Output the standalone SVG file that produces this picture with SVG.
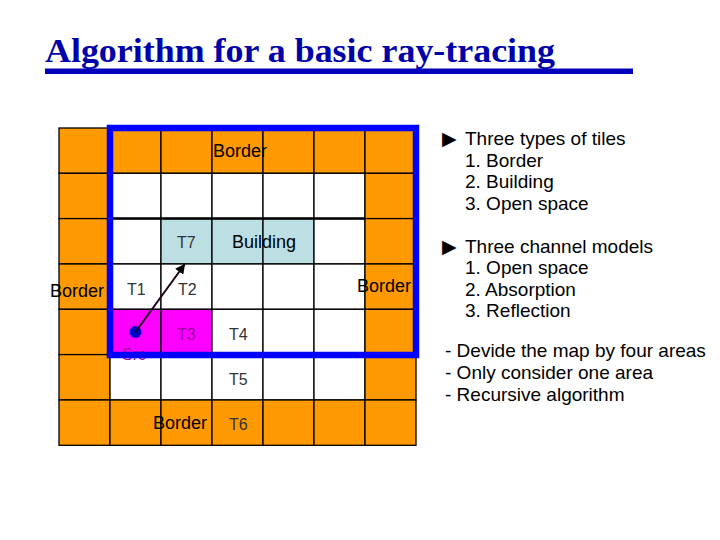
<svg xmlns="http://www.w3.org/2000/svg" width="720" height="540" viewBox="0 0 720 540">
<style>
.c{stroke:#000;stroke-width:1.3}
.o{fill:#FF9900}
.w{fill:#FFFFFF}
.b{fill:#BBDFE2}
.m{fill:#FF00FF}
.lb{font-family:"Liberation Sans",Arial,sans-serif;font-size:18px;fill:#000}
.t{font-family:"Liberation Sans",Arial,sans-serif;font-size:16px;fill:#333}
.r{font-family:"Liberation Sans",Arial,sans-serif;font-size:19px;fill:#000}
.tri{font-family:"DejaVu Sans",sans-serif;font-size:19px;fill:#000}
</style>
<defs>
<marker id="ah" viewBox="0 0 10 10" refX="9" refY="5" markerWidth="5" markerHeight="5" orient="auto">
<path d="M0,0 L10,5 L0,10 z" fill="#000"/>
</marker>
</defs>
<rect width="720" height="540" fill="#fff"/>
<g id="title">
<text x="45" y="62" font-family="Liberation Serif,'Times New Roman',serif" font-size="34" font-weight="bold" fill="#0000AA" textLength="510" lengthAdjust="spacingAndGlyphs">Algorithm for a basic ray-tracing</text>
<rect x="45" y="68.5" width="588" height="5.5" fill="#0000BB"/>
</g>
<g id="grid">
<g id="row0">
<rect class="c o" x="59" y="128" width="51" height="45.3"/><rect class="c o" x="110" y="128" width="51" height="45.3"/><rect class="c o" x="161" y="128" width="51" height="45.3"/><rect class="c o" x="212" y="128" width="51" height="45.3"/><rect class="c o" x="263" y="128" width="51" height="45.3"/><rect class="c o" x="314" y="128" width="51" height="45.3"/><rect class="c o" x="365" y="128" width="51" height="45.3"/>
</g>
<g id="row1">
<rect class="c o" x="59" y="173.3" width="51" height="45.3"/><rect class="c w" x="110" y="173.3" width="51" height="45.3"/><rect class="c w" x="161" y="173.3" width="51" height="45.3"/><rect class="c w" x="212" y="173.3" width="51" height="45.3"/><rect class="c w" x="263" y="173.3" width="51" height="45.3"/><rect class="c w" x="314" y="173.3" width="51" height="45.3"/><rect class="c o" x="365" y="173.3" width="51" height="45.3"/>
</g>
<g id="row2">
<rect class="c o" x="59" y="218.6" width="51" height="45.3"/><rect class="c w" x="110" y="218.6" width="51" height="45.3"/><rect class="c b" x="161" y="218.6" width="51" height="45.3"/><rect class="c b" x="212" y="218.6" width="51" height="45.3"/><rect class="c b" x="263" y="218.6" width="51" height="45.3"/><rect class="c w" x="314" y="218.6" width="51" height="45.3"/><rect class="c o" x="365" y="218.6" width="51" height="45.3"/>
</g>
<g id="row3">
<rect class="c o" x="59" y="264" width="51" height="45.3"/><rect class="c w" x="110" y="264" width="51" height="45.3"/><rect class="c w" x="161" y="264" width="51" height="45.3"/><rect class="c w" x="212" y="264" width="51" height="45.3"/><rect class="c w" x="263" y="264" width="51" height="45.3"/><rect class="c w" x="314" y="264" width="51" height="45.3"/><rect class="c o" x="365" y="264" width="51" height="45.3"/>
</g>
<g id="row4">
<rect class="c o" x="59" y="309.3" width="51" height="45.3"/><rect class="c m" x="110" y="309.3" width="51" height="45.3"/><rect class="c m" x="161" y="309.3" width="51" height="45.3"/><rect class="c w" x="212" y="309.3" width="51" height="45.3"/><rect class="c w" x="263" y="309.3" width="51" height="45.3"/><rect class="c w" x="314" y="309.3" width="51" height="45.3"/><rect class="c o" x="365" y="309.3" width="51" height="45.3"/>
</g>
<g id="row5">
<rect class="c o" x="59" y="354.6" width="51" height="45.3"/><rect class="c w" x="110" y="354.6" width="51" height="45.3"/><rect class="c w" x="161" y="354.6" width="51" height="45.3"/><rect class="c w" x="212" y="354.6" width="51" height="45.3"/><rect class="c w" x="263" y="354.6" width="51" height="45.3"/><rect class="c w" x="314" y="354.6" width="51" height="45.3"/><rect class="c o" x="365" y="354.6" width="51" height="45.3"/>
</g>
<g id="row6">
<rect class="c o" x="59" y="400" width="51" height="45.3"/><rect class="c o" x="110" y="400" width="51" height="45.3"/><rect class="c o" x="161" y="400" width="51" height="45.3"/><rect class="c o" x="212" y="400" width="51" height="45.3"/><rect class="c o" x="263" y="400" width="51" height="45.3"/><rect class="c o" x="314" y="400" width="51" height="45.3"/><rect class="c o" x="365" y="400" width="51" height="45.3"/>
</g>
<line x1="110" y1="218.6" x2="365" y2="218.6" stroke="#000" stroke-width="2.5"/>
</g>
<g id="labels">
<text class="lb" x="213" y="157">Border</text>
<text class="lb" x="232" y="247.5">Building</text>
<text class="lb" x="357" y="292">Border</text>
<text class="lb" x="50" y="297">Border</text>
<text class="lb" x="153" y="428.5">Border</text>
<text class="t" x="177" y="248">T7</text>
<text class="t" x="127" y="295">T1</text>
<text class="t" x="178" y="295">T2</text>
<text class="t" x="177" y="339.5" style="fill:#990099">T3</text>
<text class="t" x="229" y="339.5">T4</text>
<text class="t" x="229" y="385">T5</text>
<text class="t" x="229" y="430">T6</text>
<text x="122" y="360" font-family="Liberation Sans,Arial,sans-serif" font-size="16" fill="#A000A0">Src</text>
</g>
<g id="area">
<rect x="110" y="128" width="306" height="227" fill="none" stroke="#0000FF" stroke-width="6.5"/>
</g>
<g id="source">
<circle cx="135.5" cy="332" r="6" fill="#0000CC"/>
</g>
<g id="connectors">
<line x1="135.5" y1="332" x2="184.5" y2="264.5" stroke="#1a001a" stroke-width="2" marker-end="url(#ah)"/>
</g>
<g id="notes">
<text class="tri" x="442" y="145">▶</text>
<text class="r" x="465" y="145">Three types of tiles</text>
<text class="r" x="465" y="166.7">1. Border</text>
<text class="r" x="465" y="188.3">2. Building</text>
<text class="r" x="465" y="210">3. Open space</text>
<text class="tri" x="442" y="252.7">▶</text>
<text class="r" x="465" y="252.7">Three channel models</text>
<text class="r" x="465" y="274">1. Open space</text>
<text class="r" x="465" y="295.7">2. Absorption</text>
<text class="r" x="465" y="317.3">3. Reflection</text>
<text class="r" x="445" y="357.3">- Devide the map by four areas</text>
<text class="r" x="445" y="379.3">- Only consider one area</text>
<text class="r" x="445" y="400.7">- Recursive algorithm</text>
</g>
</svg>
